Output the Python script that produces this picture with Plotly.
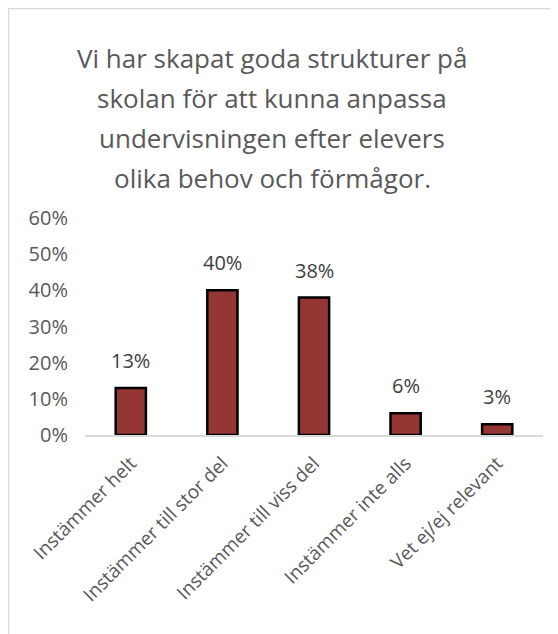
import plotly.graph_objects as go

# data
categories = ["Instämmer helt", "Instämmer till stor del", "Instämmer till viss del",
              "Instämmer inte alls", "Vet ej/ej relevant"]
values = [0.13, 0.40, 0.38, 0.06, 0.03]
title_lines = ["Vi har skapat goda strukturer på",
               "skolan för att kunna anpassa",
               "undervisningen efter elevers",
               "olika behov och förmågor."]
tick_vals = [0, 0.1, 0.2, 0.3, 0.4, 0.5, 0.6]
tick_text = ["0%", "10%", "20%", "30%", "40%", "50%", "60%"]

FONT = "Open Sans"
W, H = 558, 634
# page body has an 8px margin, so the figure sits 8px in from the window edge
L, R, T, B = 77, 23, 210, 207
plot_w = W - L - R
plot_h = H - T - B

fig = go.Figure()
fig.add_trace(go.Bar(
    x=categories,
    y=values,
    marker=dict(color="#943634", line=dict(color="black", width=2.5)),
    hoverinfo="x+y",
    showlegend=False,
))

annotations = []
# data labels above bars
for c, v in zip(categories, values):
    annotations.append(dict(
        x=c, y=v, xref="x", yref="y",
        text=f"{round(v*100)}%",
        showarrow=False, yanchor="bottom", yshift=12,
        font=dict(family=FONT, size=20, color="#404040"),
    ))

# title, one annotation per line to get the wide line spacing
title_center_px = 264
title_y_px = [50, 90, 130, 170]
for line, ypx in zip(title_lines, title_y_px):
    annotations.append(dict(
        x=(title_center_px - L) / plot_w,
        y=(H - B - ypx) / plot_h,
        xref="paper", yref="paper",
        text=line, showarrow=False,
        xanchor="center", yanchor="middle",
        font=dict(family=FONT, size=26, color="#595959"),
    ))

# outer chart frame = figure border
frame = dict(
    type="rect", xref="paper", yref="paper",
    x0=(0.5 - L) / plot_w, x1=(W - 0.5 - L) / plot_w,
    y0=-(B - 0.5) / plot_h, y1=(H - B - 0.5) / plot_h,
    line=dict(color="#d9d9d9", width=1.5),
    fillcolor="rgba(0,0,0,0)", layer="below",
)

fig.update_layout(
    width=W, height=H,
    margin=dict(l=L, r=R, t=T, b=B),
    paper_bgcolor="white",
    plot_bgcolor="white",
    bargap=0.67,
    font=dict(family=FONT, size=20, color="#595959"),
    annotations=annotations,
    shapes=[frame],
    xaxis=dict(
        showgrid=False, zeroline=False, automargin=False,
        showline=True, linecolor="#d9d9d9", linewidth=1.5,
        tickangle=-45, ticks="", ticklabelstandoff=8,
        tickfont=dict(family=FONT, size=19, color="#595959"),
    ),
    yaxis=dict(
        range=[0, 0.6], tickvals=tick_vals, ticktext=tick_text,
        showgrid=False, zeroline=False, showline=False, automargin=False,
        ticks="", ticklabelstandoff=16,
        tickfont=dict(family=FONT, size=20, color="#595959"),
    ),
)

fig.write_html("out.html")
